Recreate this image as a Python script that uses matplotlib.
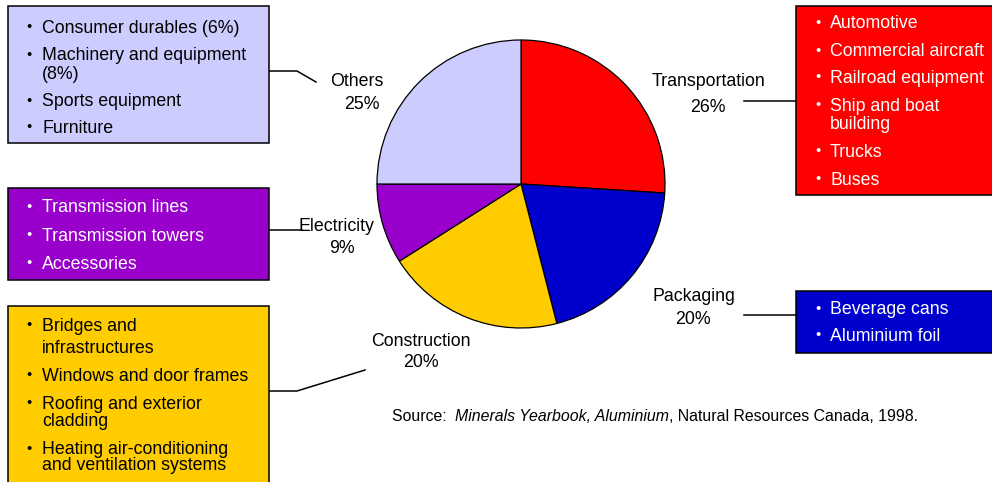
import matplotlib.pyplot as plt
from matplotlib.patches import Rectangle

plt.rcParams['font.family'] = ['Liberation Sans', 'DejaVu Sans']

# data
sectors = ['Transportation', 'Packaging', 'Construction', 'Electricity', 'Others']
shares = [26, 20, 20, 9, 25]
colors = ['#FF0000', '#0000CC', '#FFCC00', '#9900CC', '#CCCCFF']

transport_uses = ['Automotive', 'Commercial aircraft', 'Railroad equipment',
                  'Ship and boat\nbuilding', 'Trucks', 'Buses']
packaging_uses = ['Beverage cans', 'Aluminium foil']
construction_uses = ['Bridges and\ninfrastructures', 'Windows and door frames',
                     'Roofing and exterior\ncladding',
                     'Heating air-conditioning\nand ventilation systems']
electricity_uses = ['Transmission lines', 'Transmission towers', 'Accessories']
others_uses = ['Consumer durables (6%)', 'Machinery and equipment\n(8%)',
               'Sports equipment', 'Furniture']
uses = [transport_uses, packaging_uses, construction_uses, electricity_uses, others_uses]

source_parts = ['Source:  ', 'Minerals Yearbook, Aluminium', ', Natural Resources Canada, 1998.']

# layout, in pixels from the top-left corner
W, H = 992, 482
def Y(py):
    return H - py

layout = {
    'Transportation': dict(box=(796, 6, 1000, 195), lines=[22, 50, 77, 105, 123, 151, 179],
                           bx=815, tx=830, tc='white', name=(709, 80), pct=(708, 106),
                           leader=[(744, 101), (796, 101)]),
    'Packaging': dict(box=(796, 291, 1000, 353), lines=[308, 335],
                      bx=815, tx=830, tc='white', name=(694, 295), pct=(693, 318),
                      leader=[(744, 315), (796, 315)]),
    'Construction': dict(box=(8, 306, 269, 490), lines=[325, 347, 375, 403, 420, 448, 464],
                         bx=26, tx=42, tc='black', name=(421, 340), pct=(421, 361),
                         leader=[(269, 391), (297, 391), (365, 370)]),
    'Electricity': dict(box=(8, 188, 269, 280), lines=[206, 235, 263],
                        bx=26, tx=42, tc='white', name=(336, 225), pct=(342, 247),
                        leader=[(269, 230), (302, 230)]),
    'Others': dict(box=(8, 6, 269, 143), lines=[27, 54, 73, 100, 127],
                   bx=26, tx=42, tc='black', name=(357, 80), pct=(362, 103),
                   leader=[(269, 71), (297, 71), (316, 82)]),
}

fs = 12.8
half_cap = 6.3

fig = plt.figure(figsize=(9.92, 4.82), dpi=100)
ax = fig.add_axes([0, 0, 1, 1])

ax.pie(shares, colors=colors, startangle=90, counterclock=False,
       center=(521, Y(184)), radius=144,
       wedgeprops=dict(edgecolor='black', linewidth=0.9))

for sector, share, color, items in zip(sectors, shares, colors, uses):
    L = layout[sector]
    x0, y0, x1, y1 = L['box']
    ax.add_patch(Rectangle((x0, Y(y1)), x1 - x0, y1 - y0, facecolor=color,
                           edgecolor='black', linewidth=1.1, zorder=3))
    # bullet list
    k = 0
    for item in items:
        for j, line in enumerate(item.split('\n')):
            yb = Y(L['lines'][k] + half_cap)
            if j == 0:
                ax.text(L['bx'] + 0.5, yb + 1.8, '\u2022', fontsize=10.5, color=L['tc'],
                        ha='left', va='baseline', zorder=4)
            ax.text(L['tx'], yb, line, fontsize=fs, color=L['tc'],
                    ha='left', va='baseline', zorder=4)
            k += 1
    # sector label
    nx, ny = L['name']
    px, py = L['pct']
    ax.text(nx, Y(ny + half_cap), sector, fontsize=fs, ha='center', va='baseline', zorder=2)
    ax.text(px, Y(py + half_cap), f'{share}%', fontsize=fs, ha='center', va='baseline', zorder=2)
    # leader line
    xs = [p[0] for p in L['leader']]
    ys = [Y(p[1]) for p in L['leader']]
    ax.plot(xs, ys, color='black', linewidth=1.1, zorder=2)

# source note with italic title
renderer = fig.canvas.get_renderer()
sx = 392
for part, style in zip(source_parts, ['normal', 'italic', 'normal']):
    t = ax.text(sx, Y(421), part, fontsize=11.45, style=style,
                ha='left', va='baseline')
    bb = t.get_window_extent(renderer)
    sx += bb.width

ax.set_xlim(0, W)
ax.set_ylim(0, H)
ax.set_aspect('equal')
ax.axis('off')

fig.savefig('out.png', dpi=100)
